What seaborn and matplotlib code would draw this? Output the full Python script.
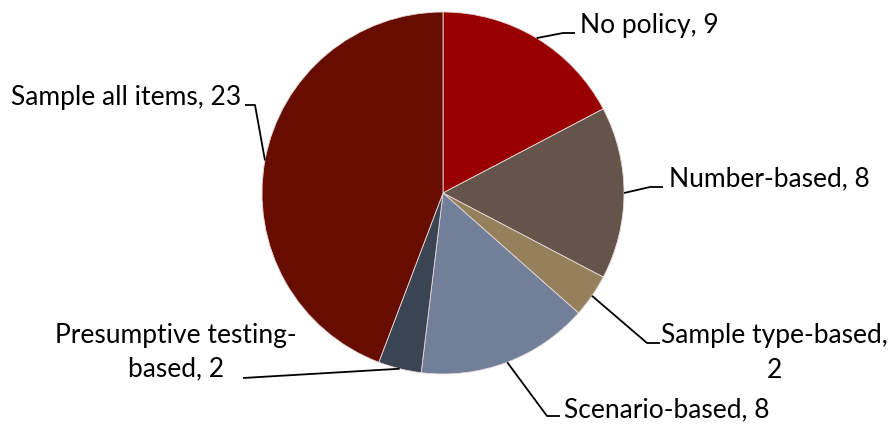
import numpy as np
import matplotlib
matplotlib.use("Agg")
import matplotlib.pyplot as plt
import seaborn as sns

categories = ["No policy", "Number-based", "Sample type-based", "Scenario-based",
              "Presumptive testing-based", "Sample all items"]
values = [9, 8, 2, 8, 2, 23]
colors = ["#990000", "#65544A", "#94805B", "#717F99", "#3B4452", "#670D00"]

sns.set_theme(style="white")
plt.rcParams["font.family"] = ["Lato", "DejaVu Sans"]

W, H = 888, 424
fig = plt.figure(figsize=(W / 100, H / 100), dpi=100)
ax = fig.add_axes([0, 0, 1, 1])

def Y(py):
    return H - py

cx, cy, R = 443, Y(193), 181
wedges, _ = ax.pie(values, colors=sns.color_palette(colors), startangle=90,
                   counterclock=False, center=(cx, cy), radius=R,
                   wedgeprops=dict(edgecolor="#e8d8d8", linewidth=0.6),
                   frame=True)
ax.set_xlim(0, W)
ax.set_ylim(0, H)
ax.set_aspect("equal")
ax.axis("off")

fs = 19
layout = [
    dict(elbow=(563, 33), end=(575, 33), lines=[(580, 25, "left", "No policy, 9")]),
    dict(elbow=(650, 187), end=(663, 187), lines=[(669, 179, "left", "Number-based, 8")]),
    dict(elbow=(647, 343), end=(660, 343),
         lines=[(774, 335, "center", "Sample type-based,"), (774, 370, "center", "2")]),
    dict(elbow=(547, 416), end=(560, 416), lines=[(564, 410, "left", "Scenario-based, 8")]),
    dict(elbow=(243, 378), end=(243, 378),
         lines=[(176, 335, "center", "Presumptive testing-"), (176, 369, "center", "based, 2")]),
    dict(elbow=(255, 105), end=(245, 105), lines=[(241, 97, "right", "Sample all items, 23")]),
]

for w, lay in zip(wedges, layout):
    mid = np.deg2rad((w.theta1 + w.theta2) / 2)
    ax_, ay_ = cx + R * np.cos(mid), cy + R * np.sin(mid)
    ex, ey = lay["elbow"]
    tx, ty = lay["end"]
    ax.plot([ax_, ex, tx], [ay_, Y(ey), Y(ty)], color="black", lw=1.3,
            solid_capstyle="butt", zorder=5)
    for (x, y, ha, s) in lay["lines"]:
        ax.text(x, Y(y), s, ha=ha, va="center", fontsize=fs, color="black")

fig.savefig("out.png", dpi=100, facecolor="white")
